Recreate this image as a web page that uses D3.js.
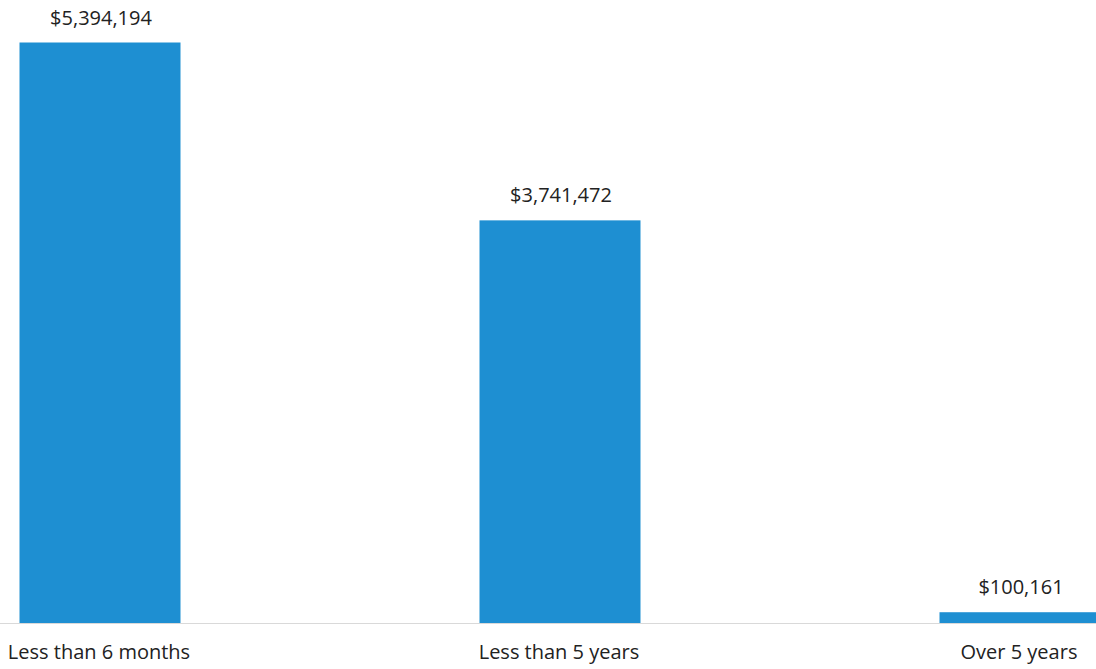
<!DOCTYPE html>
<html>
<head>
<meta charset="utf-8">
<script src="https://cdn.jsdelivr.net/npm/d3@7"></script>
<style>
  body { margin: 0; background: #fff; }
  text { font-family: "Open Sans", "Liberation Sans", sans-serif; fill: #222; }
</style>
</head>
<body>
<svg id="chart"></svg>
<script>
let svgWidth = 1096, svgHeight = 669
let categories = ['Less than 6 months', 'Less than 5 years', 'Over 5 years']
let values = [5394194, 3741472, 100161]

let svg = d3.select('#chart').attr('width', svgWidth).attr('height', svgHeight)

let baseY = 623, topY = 42.5
// bar centres sit ~460px apart, first at ~100
let x = d3.scaleBand().domain(categories).range([-130, 1250])
  .paddingInner(0.65).paddingOuter(0.325)
let y = d3.scaleLinear().domain([0, d3.max(values)]).range([baseY, topY])

let fmt = d => '$' + d3.format(',')(d)

// baseline
svg.append('line')
  .attr('x1', 0).attr('x2', svgWidth)
  .attr('y1', baseY + 0.5).attr('y2', baseY + 0.5)
  .attr('stroke', '#d9d9d9').attr('stroke-width', 1)

let data = categories.map((c, i) => ({ cat: c, val: values[i] }))

svg.selectAll('rect.bar').data(data).enter().append('rect')
  .attr('class', 'bar')
  .attr('x', d => x(d.cat))
  .attr('width', x.bandwidth())
  .attr('y', d => y(d.val))
  .attr('height', d => baseY - y(d.val))
  .attr('fill', '#1e8fd2')

svg.selectAll('text.val').data(data).enter().append('text')
  .attr('class', 'val')
  .attr('x', d => x(d.cat) + x.bandwidth() / 2 + 1)
  .attr('y', d => y(d.val) - 18)
  .attr('text-anchor', 'middle')
  .style('font-size', '20px')
  .text(d => fmt(d.val))

svg.selectAll('text.cat').data(data).enter().append('text')
  .attr('class', 'cat')
  .attr('x', d => x(d.cat) + x.bandwidth() / 2 - 1)
  .attr('y', 659)
  .attr('text-anchor', 'middle')
  .style('font-size', '20px')
  .text(d => d.cat)
</script>
</body>
</html>
